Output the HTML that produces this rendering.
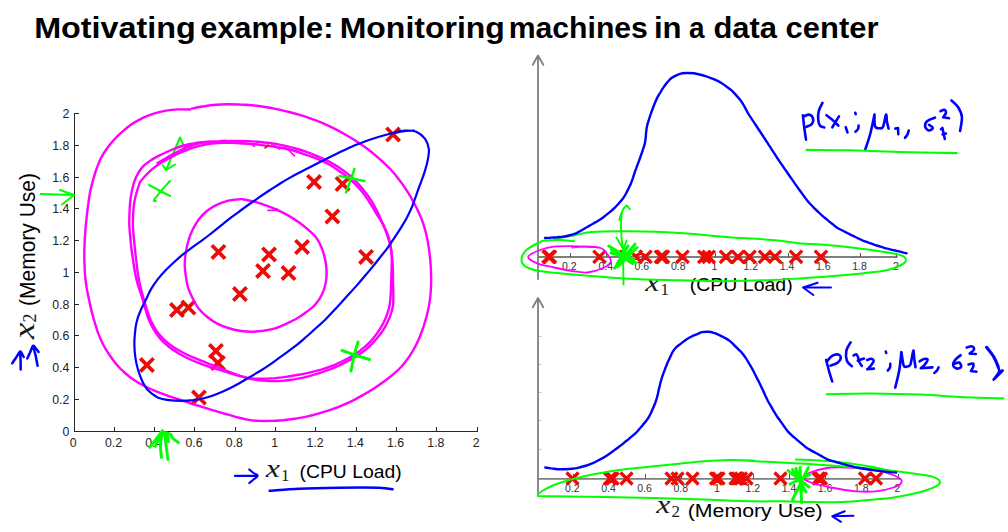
<!DOCTYPE html>
<html><head><meta charset="utf-8"><title>Motivating example</title>
<style>
html,body{margin:0;padding:0;background:#fff;}
body{width:1008px;height:532px;overflow:hidden;font-family:"Liberation Sans",sans-serif;}
svg{display:block;font-family:"Liberation Sans",sans-serif;}
svg path{fill:none;stroke-linecap:round;stroke-linejoin:round;}
svg path.x{stroke-linecap:butt;}
</style></head><body>
<svg width="1008" height="532" viewBox="0 0 1008 532">
<rect width="1008" height="532" fill="#fff"/>
<text x="34.20" y="37.7" font-size="29.7" font-weight="bold" fill="#000" textLength="161.56" lengthAdjust="spacingAndGlyphs">Motivating</text>
<text x="200.20" y="37.7" font-size="29.7" font-weight="bold" fill="#000" textLength="133.21" lengthAdjust="spacingAndGlyphs">example:</text>
<text x="339.70" y="37.7" font-size="29.7" font-weight="bold" fill="#000" textLength="165.16" lengthAdjust="spacingAndGlyphs">Monitoring</text>
<text x="508.70" y="37.7" font-size="29.7" font-weight="bold" fill="#000" textLength="139.22" lengthAdjust="spacingAndGlyphs">machines</text>
<text x="653.90" y="37.7" font-size="29.7" font-weight="bold" fill="#000" textLength="27.58" lengthAdjust="spacingAndGlyphs">in</text>
<text x="689.00" y="37.7" font-size="29.7" font-weight="bold" fill="#000" textLength="15.52" lengthAdjust="spacingAndGlyphs">a</text>
<text x="713.40" y="37.7" font-size="29.7" font-weight="bold" fill="#000" textLength="63.62" lengthAdjust="spacingAndGlyphs">data</text>
<text x="785.60" y="37.7" font-size="29.7" font-weight="bold" fill="#000" textLength="92.84" lengthAdjust="spacingAndGlyphs">center</text>
<text x="265.8" y="477.0" font-family="Liberation Serif, serif" font-style="italic" font-size="25.0" fill="#1a1a1a" textLength="14.2" lengthAdjust="spacingAndGlyphs">x</text>
<text x="281.1" y="481.0" font-family="Liberation Serif, serif" font-size="17.0" fill="#1a1a1a">1</text>
<text x="299.6" y="477.8" font-size="18.7" fill="#000" textLength="102" lengthAdjust="spacingAndGlyphs">(CPU Load)</text>
<text x="645.2" y="291.0" font-family="Liberation Serif, serif" font-style="italic" font-size="25.0" fill="#1a1a1a" textLength="14.2" lengthAdjust="spacingAndGlyphs">x</text>
<text x="660.5" y="295.0" font-family="Liberation Serif, serif" font-size="17.0" fill="#1a1a1a">1</text>
<text x="689.7" y="290.6" font-size="18.7" fill="#000" textLength="103" lengthAdjust="spacingAndGlyphs">(CPU Load)</text>
<text x="656.2" y="513.0" font-family="Liberation Serif, serif" font-style="italic" font-size="25.0" fill="#1a1a1a" textLength="14.2" lengthAdjust="spacingAndGlyphs">x</text>
<text x="671.5" y="517.0" font-family="Liberation Serif, serif" font-size="17.0" fill="#1a1a1a">2</text>
<text x="687.7" y="516.6" font-size="18.9" fill="#000" textLength="135" lengthAdjust="spacingAndGlyphs">(Memory Use)</text>
<g transform="translate(34.6,339) rotate(-90)"><text x="0" y="-0.5" font-family="Liberation Serif, serif" font-style="italic" font-size="29" fill="#1a1a1a" textLength="16.5" lengthAdjust="spacingAndGlyphs">x</text><text x="16.5" y="1.2" font-family="Liberation Serif, serif" font-size="18" fill="#1a1a1a">2</text><text x="33" y="0" font-size="22.4" fill="#000" textLength="133" lengthAdjust="spacingAndGlyphs">(Memory Use)</text></g>
<path d="M74.5 113.8V431.5H477.5M74.5 431.5h4M114.5 431.5v-4M74.5 399.5h4M154.5 431.5v-4M74.5 367.5h4M194.5 431.5v-4M74.5 335.5h4M235.5 431.5v-4M74.5 304.5h4M275.5 431.5v-4M74.5 272.5h4M315.5 431.5v-4M74.5 240.5h4M356.5 431.5v-4M74.5 208.5h4M396.5 431.5v-4M74.5 177.5h4M436.5 431.5v-4M74.5 145.5h4M477.5 431.5v-4M74.5 113.5h4" stroke="#262626" stroke-width="1" shape-rendering="crispEdges"/>
<g font-size="12.3" fill="#222" stroke="none">
<text x="73.2" y="447.0" text-anchor="middle">0</text>
<text x="69.3" y="435.7" text-anchor="end">0</text>
<text x="113.5" y="447.0" text-anchor="middle">0.2</text>
<text x="69.3" y="403.7" text-anchor="end">0.2</text>
<text x="153.8" y="447.0" text-anchor="middle">0.4</text>
<text x="69.3" y="371.7" text-anchor="end">0.4</text>
<text x="194.1" y="447.0" text-anchor="middle">0.6</text>
<text x="69.3" y="339.7" text-anchor="end">0.6</text>
<text x="234.4" y="447.0" text-anchor="middle">0.8</text>
<text x="69.3" y="308.7" text-anchor="end">0.8</text>
<text x="274.7" y="447.0" text-anchor="middle">1</text>
<text x="69.3" y="276.7" text-anchor="end">1</text>
<text x="315.0" y="447.0" text-anchor="middle">1.2</text>
<text x="69.3" y="244.7" text-anchor="end">1.2</text>
<text x="355.3" y="447.0" text-anchor="middle">1.4</text>
<text x="69.3" y="212.7" text-anchor="end">1.4</text>
<text x="395.6" y="447.0" text-anchor="middle">1.6</text>
<text x="69.3" y="181.7" text-anchor="end">1.6</text>
<text x="435.9" y="447.0" text-anchor="middle">1.8</text>
<text x="69.3" y="149.7" text-anchor="end">1.8</text>
<text x="476.2" y="447.0" text-anchor="middle">2</text>
<text x="69.3" y="117.7" text-anchor="end">2</text>
</g>
<path class="x" d="M211.8 245.3l13.3 13.3M211.8 258.6l13.3 -13.3M262.4 247.8l13.3 13.3M262.4 261.1l13.3 -13.3M295.4 240.3l13.3 13.3M295.4 253.7l13.3 -13.3M325.7 209.8l13.3 13.3M325.7 223.2l13.3 -13.3M359.4 250.3l13.3 13.3M359.4 263.6l13.3 -13.3M256.4 264.4l13.3 13.3M256.4 277.6l13.3 -13.3M281.9 266.4l13.3 13.3M281.9 279.6l13.3 -13.3M233.3 287.4l13.3 13.3M233.3 300.6l13.3 -13.3M170.3 303.4l13.3 13.3M170.3 316.6l13.3 -13.3M181.8 300.9l13.3 13.3M181.8 314.1l13.3 -13.3M140.3 358.4l13.3 13.3M140.3 371.6l13.3 -13.3M209.3 344.4l13.3 13.3M209.3 357.6l13.3 -13.3M211.3 356.4l13.3 13.3M211.3 369.6l13.3 -13.3M192.3 390.9l13.3 13.3M192.3 404.1l13.3 -13.3M386.4 127.8l13.3 13.3M386.4 141.2l13.3 -13.3M307.4 175.3l13.3 13.3M307.4 188.7l13.3 -13.3M335.9 177.3l13.3 13.3M335.9 190.7l13.3 -13.3" stroke="#ee0a05" stroke-width="3.7"/>
<path d="M149.0 185.0L170.0 196.0M170.0 181.0C168.7 182.5 164.7 186.8 162.0 190.0C159.3 193.2 155.0 198.2 154.0 200.0C153.0 201.8 155.7 200.8 156.0 201.0" stroke="#00ff00" stroke-width="2" />
<path d="M175.0 149.0L180.0 137.5L186.0 151.0L196.0 142.5M180.0 138.0L166.0 170.0M162.5 165.0L166.0 170.0L175.0 164.5" stroke="#00ff00" stroke-width="2" />
<path d="M239.1 199.2C236.5 199.4 232.1 199.8 228.4 200.7C224.7 201.7 220.7 202.9 217.2 204.6C213.6 206.2 210.1 208.3 207.1 210.7C204.0 213.2 201.3 216.2 198.9 219.3C196.5 222.5 194.5 226.0 192.7 229.5C191.0 233.1 189.5 236.8 188.4 240.6C187.2 244.4 186.5 248.4 185.9 252.3C185.2 256.2 184.7 260.2 184.7 264.2C184.7 268.1 185.2 272.1 185.8 276.0C186.4 279.9 187.0 283.9 188.1 287.7C189.3 291.5 191.0 295.1 192.8 298.6C194.5 302.1 196.4 305.8 198.8 308.8C201.2 311.9 204.2 314.5 207.3 317.0C210.3 319.4 213.7 321.8 217.2 323.6C220.7 325.4 224.4 326.8 228.1 328.0C231.9 329.2 235.9 330.2 239.8 330.8C243.7 331.4 247.6 331.8 251.6 331.8C255.5 331.8 259.5 331.3 263.5 330.8C267.4 330.2 271.3 329.5 275.1 328.3C278.8 327.1 282.5 325.4 286.1 323.8C289.8 322.1 293.4 320.5 296.9 318.5C300.3 316.5 303.6 314.2 306.7 311.8C309.9 309.3 313.2 306.9 315.7 303.9C318.3 301.0 320.4 297.7 322.1 294.2C323.7 290.7 325.0 286.7 325.7 282.9C326.5 279.1 326.7 275.1 326.6 271.2C326.5 267.3 326.0 263.2 325.1 259.4C324.3 255.5 323.1 251.6 321.7 248.0C320.2 244.3 318.5 240.7 316.2 237.6C313.9 234.5 310.8 231.9 307.8 229.3C304.8 226.7 301.7 224.2 298.4 221.9C295.1 219.6 291.7 217.5 288.3 215.6C284.8 213.6 281.2 211.8 277.6 210.2C273.9 208.5 270.2 207.0 266.5 205.7C262.7 204.3 258.8 203.0 255.1 201.9C251.3 200.9 246.7 199.9 244.0 199.5C241.3 199.0 241.7 198.9 239.1 199.2Z" stroke="#ff00ff" stroke-width="2.4" />
<path d="M268.0 210.3L278.5 210.3L276.0 208.7" stroke="#ff00ff" stroke-width="1.8" />
<path d="M190.0 109.5C188.0 109.5 182.0 109.2 178.0 109.4C174.1 109.6 170.1 109.9 166.2 110.6C162.3 111.3 158.4 112.2 154.6 113.4C150.8 114.5 147.0 115.9 143.4 117.6C139.9 119.3 136.4 121.2 133.0 123.3C129.7 125.5 126.6 128.0 123.6 130.6C120.5 133.1 117.6 135.8 114.9 138.7C112.2 141.6 109.6 144.7 107.3 148.0C105.0 151.2 102.8 154.5 101.0 158.0C99.2 161.5 97.9 165.2 96.5 169.0C95.2 172.7 94.1 176.6 93.0 180.4C91.9 184.3 90.9 188.1 90.1 192.1C89.4 196.0 88.8 199.9 88.3 203.9C87.7 207.8 87.3 211.8 86.8 215.8C86.4 219.8 86.0 223.7 85.6 227.7C85.3 231.7 85.0 235.7 84.8 239.7C84.6 243.7 84.4 247.7 84.3 251.7C84.3 255.7 84.3 259.7 84.5 263.7C84.6 267.6 84.7 271.6 85.1 275.6C85.5 279.6 86.0 283.5 86.6 287.5C87.3 291.4 88.1 295.3 88.9 299.3C89.7 303.2 90.6 307.1 91.5 310.9C92.5 314.8 93.6 318.7 94.8 322.5C95.9 326.3 97.0 330.2 98.4 333.9C99.9 337.6 101.5 341.2 103.3 344.7C105.1 348.3 107.3 351.7 109.5 355.0C111.7 358.3 114.0 361.5 116.6 364.5C119.1 367.6 122.0 370.4 125.0 373.0C127.9 375.6 131.1 378.1 134.4 380.3C137.7 382.5 141.2 384.5 144.7 386.3C148.3 388.1 151.9 389.6 155.6 391.1C159.3 392.6 163.1 394.0 166.9 395.3C170.6 396.7 174.4 397.9 178.2 399.2C182.0 400.5 185.8 401.8 189.6 403.0C193.4 404.3 197.2 405.4 201.1 406.6C204.9 407.8 208.7 408.9 212.5 410.1C216.4 411.2 220.2 412.4 224.0 413.5C227.9 414.6 231.7 415.8 235.6 416.8C239.4 417.8 243.3 419.0 247.2 419.6C251.1 420.3 255.0 420.7 259.0 420.9C263.0 421.1 267.0 421.0 271.0 420.9C275.0 420.8 279.0 420.5 282.9 420.2C286.9 419.8 290.9 419.3 294.8 418.7C298.8 418.2 302.7 417.4 306.6 416.6C310.5 415.8 314.4 414.8 318.2 413.7C322.1 412.6 325.9 411.5 329.7 410.2C333.5 408.9 337.2 407.4 340.9 405.9C344.6 404.4 348.3 402.8 351.8 401.1C355.4 399.3 358.9 397.4 362.4 395.4C365.9 393.5 369.3 391.4 372.7 389.3C376.1 387.1 379.3 384.9 382.6 382.5C385.8 380.2 389.0 377.7 392.1 375.2C395.1 372.6 398.2 370.1 400.9 367.2C403.6 364.3 406.0 361.1 408.3 357.9C410.6 354.7 412.7 351.3 414.6 347.8C416.5 344.3 418.2 340.7 419.7 337.0C421.2 333.4 422.6 329.6 423.8 325.8C425.0 322.0 426.2 318.1 427.1 314.3C428.1 310.4 428.9 306.5 429.5 302.6C430.2 298.6 430.5 294.6 430.8 290.7C431.0 286.7 431.2 282.7 431.2 278.7C431.1 274.7 431.0 270.7 430.8 266.7C430.5 262.7 430.2 258.7 429.7 254.8C429.3 250.8 428.7 246.9 428.0 242.9C427.3 239.0 426.5 235.1 425.5 231.2C424.5 227.4 423.3 223.6 421.9 219.8C420.5 216.1 418.8 212.5 417.1 208.9C415.4 205.3 413.5 201.8 411.5 198.3C409.5 194.8 407.4 191.4 405.2 188.1C403.0 184.8 400.7 181.5 398.2 178.4C395.7 175.3 393.2 172.2 390.5 169.3C387.8 166.4 384.8 163.7 381.9 161.0C378.9 158.3 375.9 155.6 372.8 153.1C369.7 150.6 366.5 148.3 363.2 145.9C360.0 143.6 356.7 141.4 353.3 139.2C349.9 137.1 346.4 135.1 343.0 133.2C339.5 131.2 336.0 129.3 332.4 127.6C328.8 125.8 325.2 124.2 321.5 122.6C317.8 121.1 314.0 119.7 310.2 118.4C306.5 117.1 302.7 115.8 298.9 114.7C295.0 113.5 291.2 112.5 287.3 111.5C283.4 110.6 279.5 109.6 275.6 108.9C271.7 108.1 267.7 107.4 263.8 106.8C259.8 106.2 255.9 105.7 251.9 105.3C247.9 104.9 243.9 104.6 239.9 104.5C235.9 104.3 231.9 104.2 228.0 104.2C224.0 104.3 219.9 104.4 216.0 104.7C212.0 105.0 207.9 105.6 204.3 106.2C200.7 106.7 196.2 107.7 194.2 108.1C192.1 108.5 192.4 108.4 192.0 108.5" stroke="#ff00ff" stroke-width="2.4" />
<path d="M157.5 163.0C159.2 162.0 164.4 159.0 167.9 157.0C171.4 155.0 174.8 153.0 178.4 151.2C181.9 149.4 185.5 147.5 189.2 146.1C192.9 144.8 196.7 143.7 200.6 143.0C204.5 142.2 208.5 142.1 212.5 141.8C216.5 141.4 220.5 141.2 224.5 141.0C228.5 140.9 232.5 140.9 236.5 140.9C240.5 140.9 244.5 140.9 248.5 141.1C252.4 141.3 256.4 141.6 260.4 142.0C264.4 142.4 268.4 142.8 272.3 143.4C276.3 144.0 280.2 144.8 284.1 145.6C288.0 146.5 291.9 147.4 295.7 148.5C299.6 149.6 303.4 150.8 307.1 152.2C310.9 153.5 314.6 155.0 318.3 156.6C321.9 158.1 325.6 159.8 329.1 161.6C332.6 163.5 336.1 165.6 339.4 167.8C342.7 170.0 345.9 172.3 349.0 174.9C352.0 177.4 354.8 180.3 357.6 183.2C360.3 186.1 362.9 189.2 365.3 192.3C367.7 195.5 370.1 198.7 372.2 202.1C374.2 205.5 376.1 209.1 377.8 212.6C379.5 216.2 381.1 219.9 382.6 223.6C384.2 227.3 385.9 231.0 387.1 234.7C388.4 238.5 389.5 242.3 390.4 246.2C391.2 250.1 391.8 254.1 392.2 258.0C392.6 262.0 392.8 266.0 392.9 270.0C393.1 274.0 393.0 278.0 393.0 282.0C393.1 286.0 393.3 290.0 393.3 294.0C393.3 297.9 393.5 301.9 393.0 305.8C392.4 309.7 391.2 313.5 389.8 317.2C388.4 320.8 386.5 324.4 384.5 327.8C382.5 331.2 380.1 334.5 377.6 337.6C375.1 340.7 372.4 343.6 369.5 346.3C366.6 349.0 363.5 351.5 360.2 353.8C357.0 356.1 353.5 358.0 350.0 359.9C346.5 361.8 342.9 363.6 339.3 365.3C335.6 367.0 332.0 368.6 328.3 370.0C324.5 371.4 320.7 372.7 316.9 373.9C313.1 375.1 309.3 376.3 305.4 377.2C301.6 378.2 297.6 378.8 293.7 379.4C289.7 380.0 285.8 380.7 281.8 380.9C277.8 381.2 273.8 381.1 269.9 381.0C265.9 380.8 261.9 380.6 257.9 380.1C254.0 379.6 250.1 378.8 246.2 377.8C242.3 376.9 238.5 375.6 234.7 374.5C230.8 373.4 227.0 372.2 223.2 371.1C219.3 369.9 215.5 368.8 211.7 367.6C207.9 366.4 204.1 365.1 200.4 363.7C196.6 362.2 192.9 360.7 189.3 359.0C185.7 357.3 182.1 355.5 178.7 353.5C175.3 351.4 172.0 349.2 168.9 346.7C165.8 344.2 162.8 341.6 160.2 338.6C157.6 335.6 155.4 332.3 153.3 328.9C151.3 325.5 149.6 321.9 148.2 318.2C146.7 314.5 145.9 310.6 144.8 306.8C143.7 302.9 142.6 299.1 141.4 295.3C140.2 291.5 138.7 287.7 137.6 283.9C136.5 280.1 135.7 276.2 134.9 272.3C134.2 268.4 133.6 264.4 133.1 260.4C132.5 256.5 131.9 252.5 131.4 248.5C131.0 244.6 130.5 240.6 130.2 236.6C129.8 232.6 129.5 228.6 129.3 224.7C129.2 220.7 129.3 216.7 129.5 212.7C129.7 208.7 129.9 204.7 130.3 200.7C130.8 196.8 131.4 192.8 132.3 188.9C133.2 185.1 134.2 181.2 135.9 177.6C137.5 174.1 139.4 170.5 142.0 167.6C144.5 164.7 147.7 162.5 151.0 160.3C154.2 158.1 157.9 156.3 161.5 154.5C165.0 152.7 168.7 151.0 172.4 149.5C176.0 148.0 179.8 146.6 183.6 145.5C187.4 144.5 191.4 143.7 195.3 143.1C199.2 142.4 203.2 142.1 207.2 141.7C211.2 141.4 216.1 141.2 219.1 141.1C222.1 140.9 224.0 140.8 225.0 140.8" stroke="#ff00ff" stroke-width="2.4" />
<path d="M140.0 182.0C141.3 180.5 145.1 175.8 147.9 173.0C150.7 170.3 153.8 167.8 157.0 165.4C160.3 163.1 163.7 161.1 167.2 159.1C170.7 157.2 174.2 155.3 177.9 153.6C181.5 152.0 185.1 150.4 188.9 149.0C192.6 147.7 196.5 146.5 200.4 145.6C204.2 144.7 208.2 144.0 212.1 143.6C216.1 143.1 220.1 142.9 224.1 142.8C228.0 142.7 232.0 142.9 236.0 143.0C240.0 143.2 244.0 143.4 248.0 143.7C252.0 144.0 256.0 144.4 259.9 144.9C263.9 145.3 267.9 145.9 271.8 146.4C275.8 147.0 279.8 147.4 283.7 148.2C287.6 148.9 291.5 149.9 295.3 151.0C299.1 152.2 302.8 153.7 306.6 155.0C310.3 156.4 314.2 157.7 317.8 159.2C321.5 160.7 325.2 162.3 328.7 164.2C332.1 166.1 335.4 168.4 338.7 170.7C342.0 173.0 345.3 175.2 348.3 177.8C351.4 180.3 354.3 183.1 357.0 186.0C359.7 188.9 362.3 191.9 364.7 195.1C367.0 198.3 369.2 201.7 371.3 205.1C373.4 208.5 375.4 212.0 377.4 215.4C379.5 218.8 381.9 222.0 383.7 225.5C385.6 229.0 387.2 232.7 388.4 236.4C389.6 240.1 390.5 244.1 391.0 248.0C391.6 251.9 391.7 255.9 391.8 259.9C391.8 263.9 391.6 267.9 391.5 271.9C391.4 275.9 391.2 279.9 391.1 283.9C390.9 287.9 390.9 291.9 390.6 295.9C390.3 299.8 390.0 303.8 389.2 307.6C388.3 311.5 386.9 315.2 385.3 318.9C383.7 322.5 381.8 326.0 379.7 329.4C377.6 332.7 375.2 336.0 372.7 339.0C370.1 342.0 367.2 344.8 364.2 347.4C361.2 350.0 358.0 352.4 354.6 354.5C351.3 356.7 347.7 358.5 344.2 360.3C340.6 362.1 337.0 363.9 333.4 365.4C329.7 367.0 325.9 368.2 322.1 369.4C318.3 370.5 314.4 371.4 310.5 372.3C306.6 373.2 302.7 374.1 298.7 374.8C294.8 375.5 290.8 376.1 286.9 376.7C282.9 377.2 279.0 377.7 275.0 378.1C271.0 378.4 267.0 378.7 263.0 378.7C259.0 378.8 255.0 379.0 251.1 378.5C247.2 378.0 243.4 376.8 239.6 375.7C235.9 374.5 232.1 372.9 228.4 371.5C224.7 370.1 221.0 368.5 217.3 367.0C213.6 365.5 209.8 364.1 206.1 362.6C202.4 361.1 198.7 359.7 195.0 358.1C191.3 356.6 187.6 355.0 184.1 353.2C180.5 351.3 177.0 349.4 173.7 347.2C170.4 345.0 167.2 342.6 164.3 339.9C161.5 337.2 158.9 334.1 156.6 330.9C154.4 327.7 152.5 324.2 150.8 320.6C149.2 317.0 148.1 313.1 146.8 309.3C145.6 305.5 144.4 301.7 143.4 297.8C142.3 294.0 141.2 290.1 140.3 286.2C139.4 282.3 138.6 278.4 138.0 274.5C137.3 270.5 136.9 266.6 136.5 262.6C136.0 258.6 135.5 254.6 135.1 250.7C134.7 246.7 134.2 242.7 133.9 238.7C133.5 234.7 133.1 230.8 133.0 226.8C132.8 222.8 132.9 218.8 133.1 214.8C133.3 210.8 133.6 206.8 134.2 202.9C134.8 199.0 135.9 194.9 136.9 191.5C137.9 188.0 139.5 183.6 140.0 182.0" stroke="#ff00ff" stroke-width="2.4" />
<path d="M238.0 142.8C240.0 143.0 247.2 143.2 250.0 143.8C252.8 144.4 253.8 146.1 254.5 146.5M271.6 144.5C272.3 144.8 274.7 145.8 276.0 146.5C277.3 147.2 278.9 148.6 279.5 149.0M284.3 147.4C285.1 147.9 287.3 149.1 289.0 150.5C290.7 151.9 293.7 155.1 294.6 156.0" stroke="#ff00ff" stroke-width="1.6" />
<path d="M265.3 147.8L268.3 145.4" stroke="#ee0a05" stroke-width="2" />
<path d="M393.0 133.0C395.0 132.6 400.9 130.8 404.7 130.6C408.6 130.4 412.8 130.4 416.2 131.7C419.6 133.1 422.9 135.9 425.1 138.8C427.2 141.8 428.5 145.7 428.9 149.4C429.3 153.2 428.2 157.4 427.5 161.2C426.7 165.1 425.5 169.0 424.3 172.8C423.1 176.6 421.6 180.3 420.2 184.1C418.9 187.8 417.5 191.6 416.2 195.4C414.8 199.1 413.6 203.0 412.1 206.7C410.6 210.3 408.8 214.0 407.0 217.5C405.1 221.0 403.0 224.4 400.9 227.8C398.8 231.2 396.6 234.5 394.3 237.9C392.1 241.2 390.0 244.6 387.6 247.8C385.3 251.0 382.7 254.1 380.2 257.2C377.7 260.4 375.2 263.5 372.7 266.6C370.2 269.7 367.6 272.8 365.0 275.8C362.5 278.9 359.9 281.9 357.3 284.9C354.6 287.9 351.9 290.9 349.2 293.8C346.5 296.8 343.8 299.8 341.1 302.7C338.4 305.7 335.7 308.6 333.0 311.6C330.3 314.5 327.5 317.4 324.7 320.2C321.8 322.9 318.8 325.6 315.8 328.3C312.8 330.9 309.9 333.6 306.9 336.3C303.9 338.9 300.9 341.6 297.8 344.1C294.7 346.6 291.4 348.9 288.2 351.3C285.0 353.7 281.7 356.0 278.5 358.4C275.3 360.7 272.1 363.2 268.8 365.4C265.5 367.7 262.1 369.7 258.7 371.8C255.2 373.9 251.8 375.9 248.3 377.9C244.9 379.9 241.5 382.0 238.0 384.0C234.5 385.9 230.9 387.8 227.3 389.5C223.7 391.2 220.1 392.8 216.3 394.2C212.6 395.7 208.8 397.0 204.9 398.0C201.1 399.0 197.1 399.7 193.2 400.2C189.2 400.6 185.2 400.8 181.2 400.8C177.3 400.8 173.2 400.7 169.3 400.1C165.4 399.6 161.2 399.0 157.7 397.4C154.2 395.8 150.9 393.4 148.3 390.6C145.6 387.8 143.8 384.1 142.0 380.5C140.3 377.0 139.0 373.2 137.9 369.3C136.8 365.5 135.9 361.6 135.4 357.7C134.8 353.7 134.5 349.7 134.4 345.7C134.3 341.7 134.5 337.7 134.9 333.8C135.2 329.8 135.6 325.8 136.6 321.9C137.5 318.1 138.9 314.3 140.5 310.7C142.0 307.0 144.1 303.6 145.8 300.0C147.6 296.4 149.0 292.6 151.0 289.1C152.9 285.7 155.3 282.4 157.7 279.3C160.1 276.1 162.9 273.2 165.6 270.3C168.4 267.4 171.3 264.7 174.3 262.0C177.2 259.3 180.2 256.6 183.3 254.1C186.4 251.6 189.7 249.3 192.9 246.9C196.1 244.5 199.5 242.3 202.7 239.9C205.9 237.6 209.0 235.1 212.2 232.6C215.3 230.1 218.4 227.6 221.5 225.1C224.6 222.6 227.7 220.0 230.9 217.6C234.1 215.2 237.3 212.9 240.6 210.5C243.8 208.1 247.0 205.8 250.3 203.5C253.6 201.2 256.8 198.9 260.1 196.6C263.4 194.4 266.8 192.1 270.1 190.0C273.5 187.8 276.8 185.6 280.2 183.5C283.6 181.4 287.1 179.3 290.6 177.4C294.0 175.4 297.6 173.6 301.1 171.7C304.7 169.8 308.2 168.0 311.8 166.2C315.4 164.4 318.9 162.6 322.5 160.8C326.0 158.9 329.6 157.1 333.2 155.4C336.8 153.6 340.4 151.9 344.0 150.2C347.7 148.5 351.3 146.8 355.0 145.3C358.7 143.8 362.4 142.4 366.2 141.0C369.9 139.7 373.7 138.3 377.5 137.2C381.4 136.0 385.2 135.0 389.1 134.0C393.0 133.1 397.0 132.2 400.8 131.6C404.6 131.1 409.7 130.8 411.9 130.7C414.1 130.5 413.7 130.5 414.0 130.5" stroke="#0000ff" stroke-width="2.2" />
<path d="M40.6 194.0L74.0 195.0M60.0 190.0L74.0 195.0L62.0 204.5" stroke="#00ff00" stroke-width="2" />
<path d="M354.5 169.0L346.0 192.5M339.5 176.0L364.5 181.0" stroke="#00ff00" stroke-width="2.4" />
<path d="M358.0 342.0C357.3 344.3 355.2 351.2 354.0 356.0C352.8 360.8 351.5 368.5 351.0 371.0M342.0 350.5C344.2 351.2 350.4 353.5 355.0 355.0C359.6 356.5 367.1 358.8 369.5 359.5" stroke="#00ff00" stroke-width="3" />
<path d="M161.5 457.6C161.3 455.5 160.3 449.5 160.5 445.0C160.7 440.5 162.1 433.2 162.4 430.8M168.0 459.5C167.7 457.1 166.5 449.5 166.0 445.0C165.5 440.5 165.0 434.8 164.8 432.7M149.7 447.3L162.4 430.8M155.4 446.3L161.0 432.2M165.7 432.7C166.5 432.9 169.2 433.2 170.4 434.1C171.6 435.0 171.5 436.9 172.8 438.3C174.1 439.7 177.5 441.9 178.4 442.6M167.6 435.0L168.5 441.6" stroke="#00ff00" stroke-width="2.9" />
<path d="M20.7 369.5C20.7 367.9 20.7 362.9 20.6 360.0C20.5 357.1 20.0 353.3 19.9 352.0M12.2 363.3C12.9 362.2 15.2 358.9 16.5 357.0C17.8 355.1 19.1 352.4 19.9 351.7C20.7 351.0 20.9 352.1 21.5 353.0C22.1 353.9 23.3 356.3 23.7 357.0M37.6 365.8C37.2 364.0 36.3 358.3 35.5 355.0C34.7 351.7 33.4 347.5 33.0 346.0M27.3 358.5C27.8 357.3 29.6 353.6 30.5 351.5C31.4 349.4 32.2 346.4 33.0 345.8C33.8 345.2 34.6 347.0 35.5 348.0C36.4 349.0 38.1 351.3 38.6 352.0" stroke="#0000ff" stroke-width="2.5" />
<path d="M234.9 475.8L257.7 475.8M249.3 469.5C250.0 470.1 252.1 471.9 253.5 473.0C254.9 474.1 257.7 474.7 257.7 475.8C257.7 476.9 254.9 478.3 253.5 479.5C252.1 480.7 250.0 482.4 249.3 483.0" stroke="#0000ff" stroke-width="2.2" />
<path d="M269.6 490.7C274.6 490.4 287.8 489.2 299.4 488.7C311.0 488.2 325.8 487.9 339.0 487.7C352.2 487.5 369.8 487.4 378.7 487.7C387.6 488.0 390.3 489.0 392.6 489.3" stroke="#0000ff" stroke-width="2.5" />
<g stroke="#7f7f7f" stroke-width="1.8">
<path d="M538 56V279M532.8 64.8L538 55.5L543.3 64.8"/>
<path d="M538 257H897"/>
<path d="M538 298.5V496M532.8 307.3L538 298L543.3 307.3"/>
<path d="M538 478.8H899.5"/>
</g>
<path d="M570.5 257v-4M573.5 478.5v-4M606.5 257v-4M609.5 478.5v-4M642.5 257v-4M645.5 478.5v-4M679.5 257v-4M681.5 478.5v-4M715.5 257v-4M717.5 478.5v-4M751.5 257v-4M753.5 478.5v-4M788.5 257v-4M789.5 478.5v-4M824.5 257v-4M825.5 478.5v-4M860.5 257v-4M862.5 478.5v-4M896.5 257v-4M898.5 478.5v-4" stroke="#555" stroke-width="1" shape-rendering="crispEdges"/>
<path d="M539 336.0h3M539 364.0h3M539 392.5h3M539 420.5h3M539 449.0h3" stroke="#d0d0d0" stroke-width="1" shape-rendering="crispEdges"/>
<g font-size="10.5" fill="#333" stroke="none" text-anchor="middle">
<text x="569.4" y="270.3">0.2</text>
<text x="572.4" y="492">0.2</text>
<text x="605.7" y="270.3">0.4</text>
<text x="608.5" y="492">0.4</text>
<text x="641.9" y="270.3">0.6</text>
<text x="644.6" y="492">0.6</text>
<text x="678.2" y="270.3">0.8</text>
<text x="680.7" y="492">0.8</text>
<text x="714.5" y="270.3">1</text>
<text x="716.8" y="492">1</text>
<text x="750.8" y="270.3">1.2</text>
<text x="752.9" y="492">1.2</text>
<text x="787.1" y="270.3">1.4</text>
<text x="789.0" y="492">1.4</text>
<text x="823.3" y="270.3">1.6</text>
<text x="825.1" y="492">1.6</text>
<text x="859.6" y="270.3">1.8</text>
<text x="861.2" y="492">1.8</text>
<text x="895.9" y="270.3">2</text>
<text x="897.3" y="492">2</text>
</g>
<path class="x" d="M542.4 250.6l12.4 12.4M542.4 263.0l12.4 -12.4M543.8 250.6l12.4 12.4M543.8 263.0l12.4 -12.4M593.3 250.6l12.4 12.4M593.3 263.0l12.4 -12.4M619.5 250.6l12.4 12.4M619.5 263.0l12.4 -12.4M629.8 250.6l12.4 12.4M629.8 263.0l12.4 -12.4M639.2 250.6l12.4 12.4M639.2 263.0l12.4 -12.4M654.8 250.6l12.4 12.4M654.8 263.0l12.4 -12.4M656.8 250.6l12.4 12.4M656.8 263.0l12.4 -12.4M676.3 250.6l12.4 12.4M676.3 263.0l12.4 -12.4M698.1 250.6l12.4 12.4M698.1 263.0l12.4 -12.4M702.5 250.6l12.4 12.4M702.5 263.0l12.4 -12.4M719.8 250.6l12.4 12.4M719.8 263.0l12.4 -12.4M731.8 250.6l12.4 12.4M731.8 263.0l12.4 -12.4M743.3 250.6l12.4 12.4M743.3 263.0l12.4 -12.4M758.8 250.6l12.4 12.4M758.8 263.0l12.4 -12.4M768.8 250.6l12.4 12.4M768.8 263.0l12.4 -12.4M789.8 250.6l12.4 12.4M789.8 263.0l12.4 -12.4M814.8 250.6l12.4 12.4M814.8 263.0l12.4 -12.4" stroke="#ee0a05" stroke-width="3.3"/>
<path class="x" d="M566.5 472.5l12 12M566.5 484.5l12 -12M604.0 472.5l12 12M604.0 484.5l12 -12M606.5 472.5l12 12M606.5 484.5l12 -12M620.5 472.5l12 12M620.5 484.5l12 -12M665.5 472.5l12 12M665.5 484.5l12 -12M671.5 472.5l12 12M671.5 484.5l12 -12M686.5 472.5l12 12M686.5 484.5l12 -12M710.0 472.5l12 12M710.0 484.5l12 -12M712.5 472.5l12 12M712.5 484.5l12 -12M729.5 472.5l12 12M729.5 484.5l12 -12M732.0 472.5l12 12M732.0 484.5l12 -12M735.0 472.5l12 12M735.0 484.5l12 -12M740.5 472.5l12 12M740.5 484.5l12 -12M774.5 472.5l12 12M774.5 484.5l12 -12M812.5 472.5l12 12M812.5 484.5l12 -12M815.0 472.5l12 12M815.0 484.5l12 -12M859.0 472.5l12 12M859.0 484.5l12 -12M870.0 472.5l12 12M870.0 484.5l12 -12" stroke="#ee0a05" stroke-width="3.3"/>
<path d="M590.0 247.0C588.2 246.9 585.0 246.4 579.0 246.3C573.0 246.2 560.5 246.1 554.0 246.7C547.5 247.3 544.3 248.3 540.0 250.0C535.7 251.7 528.7 254.5 528.2 256.7C527.8 258.9 533.0 261.5 537.3 263.3C541.6 265.1 548.4 266.2 554.0 267.5C559.6 268.8 565.2 270.0 570.7 270.8C576.2 271.6 581.9 273.0 587.3 272.5C592.7 272.0 599.1 269.8 603.0 268.0C606.9 266.2 610.0 264.0 610.7 261.7C611.4 259.4 609.0 256.3 607.3 254.0C605.6 251.7 604.4 249.2 600.7 248.0C597.0 246.8 589.8 246.6 585.0 246.5C580.2 246.4 574.2 247.3 572.0 247.5" stroke="#ff00ff" stroke-width="1.8" />
<path d="M803.8 478.5C803.1 477.2 805.4 475.7 807.0 474.5C808.6 473.3 809.5 472.5 813.5 471.3C817.5 470.1 823.9 468.1 831.0 467.5C838.1 466.9 847.7 467.4 856.0 468.0C864.3 468.6 873.9 469.7 881.0 471.3C888.1 472.9 895.1 475.6 898.5 477.5C901.9 479.4 902.3 480.8 901.5 482.5C900.7 484.2 897.8 486.0 893.5 487.5C889.2 489.0 882.2 490.7 876.0 491.3C869.8 491.9 863.5 491.9 856.0 491.3C848.5 490.7 838.5 489.0 831.0 487.5C823.5 486.0 815.5 484.0 811.0 482.5C806.5 481.0 804.5 479.8 803.8 478.5Z" stroke="#ff00ff" stroke-width="1.8" />
<path d="M574.0 241.3C571.7 241.1 564.8 240.1 560.0 240.0C555.2 239.9 548.5 240.1 545.0 240.5C541.5 240.9 542.1 240.9 539.0 242.5C535.9 244.1 529.4 247.3 526.5 250.0C523.6 252.7 521.7 256.1 521.5 258.8C521.3 261.5 522.0 264.2 525.3 266.3C528.6 268.4 532.5 269.9 541.5 271.3C550.5 272.8 564.4 273.8 579.0 275.0C593.6 276.2 612.3 277.9 629.0 278.8C645.7 279.7 663.0 279.9 679.0 280.3C695.0 280.7 709.5 281.2 725.0 281.2C740.5 281.1 759.5 280.5 772.0 280.0C784.5 279.5 790.2 279.0 800.0 278.4C809.8 277.8 820.7 277.1 831.0 276.3C841.3 275.5 852.7 274.4 862.0 273.4C871.3 272.4 880.2 271.7 886.8 270.3C893.3 268.9 898.1 266.7 901.3 265.0C904.5 263.3 905.9 261.6 905.9 260.0C905.9 258.4 905.2 256.8 901.3 255.4C897.4 254.0 891.0 253.0 882.7 251.7C874.4 250.4 862.0 248.7 851.7 247.5C841.4 246.3 829.3 245.1 820.7 244.4C812.1 243.7 808.1 244.1 800.0 243.4C791.9 242.7 785.0 241.1 772.0 240.0C759.0 238.9 737.5 237.9 722.0 236.7C706.5 235.5 694.5 233.9 679.0 233.0C663.5 232.1 643.6 231.5 629.0 231.3C614.4 231.1 600.7 231.3 591.5 232.0C582.3 232.7 580.2 234.4 574.0 235.5C567.8 236.6 557.3 238.2 554.0 238.8" stroke="#00ff00" stroke-width="2" />
<path d="M754.0 460.5C749.8 460.4 737.3 459.9 729.0 460.0C720.7 460.1 712.3 460.7 704.0 461.3C695.7 461.9 687.3 463.0 679.0 463.8C670.7 464.6 662.3 465.5 654.0 466.3C645.7 467.1 637.3 467.8 629.0 468.8C620.7 469.8 612.3 471.1 604.0 472.5C595.7 473.9 587.3 475.4 579.0 477.5C570.7 479.6 560.9 482.1 554.0 485.0C547.1 487.9 537.8 493.1 537.8 495.0C537.8 496.9 543.0 496.0 554.0 496.3C565.0 496.6 587.3 496.7 604.0 497.0C620.7 497.3 637.3 497.6 654.0 498.0C670.7 498.4 687.3 498.9 704.0 499.5C720.7 500.1 741.2 501.0 754.0 501.3C766.8 501.6 772.3 501.2 781.0 501.3C789.7 501.4 795.6 501.9 806.0 502.0C816.4 502.1 833.1 502.3 843.5 502.0C853.9 501.7 860.2 500.8 868.5 500.0C876.8 499.2 885.2 498.8 893.5 497.5C901.8 496.2 911.4 494.4 918.5 492.5C925.6 490.6 932.5 488.2 936.0 486.3C939.5 484.4 940.6 483.0 939.8 481.3C939.0 479.6 936.6 477.8 931.0 476.3C925.4 474.8 914.3 473.6 906.0 472.5C897.7 471.4 889.3 470.3 881.0 469.5C872.7 468.7 864.3 468.2 856.0 467.5C847.7 466.8 839.3 466.1 831.0 465.5C822.7 464.9 814.3 464.3 806.0 463.8C797.7 463.3 789.3 462.9 781.0 462.5C772.7 462.1 762.8 461.7 756.0 461.3C749.2 460.9 742.7 460.5 740.0 460.3" stroke="#00ff00" stroke-width="2" />
<path d="M796.0 459.5C801.8 459.8 818.9 460.2 831.0 461.3C843.1 462.4 857.7 464.5 868.5 466.3C879.3 468.1 891.4 471.1 896.0 472.0" stroke="#00ff00" stroke-width="2" />
<path d="M545.0 238.0C546.0 237.9 549.0 237.8 551.0 237.6C553.0 237.5 555.0 237.4 557.0 237.3C559.0 237.1 561.0 236.9 562.9 236.7C564.9 236.4 566.9 236.0 568.8 235.5C570.8 235.1 572.7 234.7 574.6 233.9C576.4 233.2 578.1 232.2 579.9 231.2C581.6 230.3 583.4 229.3 585.1 228.3C586.8 227.3 588.6 226.3 590.3 225.3C592.0 224.3 593.8 223.3 595.5 222.3C597.2 221.3 599.0 220.3 600.6 219.2C602.3 218.1 603.9 216.9 605.4 215.6C607.0 214.4 608.6 213.2 610.1 211.9C611.7 210.6 613.2 209.3 614.6 207.9C616.0 206.5 617.3 205.0 618.7 203.5C620.0 202.0 621.4 200.6 622.6 199.0C623.8 197.4 624.8 195.7 625.8 194.0C626.7 192.2 627.6 190.4 628.5 188.6C629.3 186.8 630.3 185.0 631.0 183.2C631.8 181.3 632.4 179.4 633.1 177.6C633.7 175.7 634.3 173.7 634.9 171.9C635.6 170.0 636.3 168.1 637.0 166.2C637.7 164.3 638.4 162.5 639.1 160.6C639.8 158.7 640.5 156.8 641.1 155.0C641.8 153.1 642.4 151.2 643.0 149.3C643.7 147.4 644.4 145.5 644.8 143.6C645.2 141.6 645.5 139.6 645.7 137.7C645.9 135.7 645.9 133.7 646.2 131.7C646.4 129.7 646.7 127.7 647.1 125.8C647.5 123.8 648.2 121.9 648.8 120.0C649.4 118.1 650.0 116.2 650.6 114.3C651.3 112.4 652.0 110.6 652.7 108.7C653.4 106.8 654.1 104.9 654.9 103.1C655.6 101.3 656.4 99.4 657.3 97.6C658.2 95.9 659.3 94.2 660.3 92.5C661.3 90.7 662.3 89.0 663.5 87.4C664.6 85.7 665.8 84.1 667.1 82.6C668.4 81.1 669.7 79.5 671.2 78.3C672.7 77.1 674.5 76.2 676.3 75.4C678.1 74.5 680.0 73.7 681.9 73.3C683.8 73.0 685.8 73.0 687.8 73.0C689.8 73.0 691.8 73.0 693.8 73.2C695.7 73.5 697.7 74.0 699.6 74.5C701.5 75.0 703.5 75.5 705.4 76.1C707.3 76.7 709.2 77.4 711.0 78.1C712.9 78.8 714.8 79.5 716.6 80.4C718.4 81.2 720.1 82.2 721.8 83.3C723.5 84.3 725.1 85.5 726.7 86.7C728.3 87.8 730.0 89.0 731.5 90.3C733.0 91.6 734.2 93.2 735.6 94.6C736.9 96.1 738.3 97.6 739.5 99.1C740.8 100.7 741.9 102.3 743.0 104.0C744.0 105.7 744.9 107.5 745.9 109.3C746.8 111.0 747.8 112.8 748.8 114.5C749.8 116.2 751.0 117.9 752.1 119.5C753.1 121.2 754.3 122.9 755.4 124.5C756.5 126.2 757.6 127.8 758.7 129.5C759.8 131.2 760.9 132.8 762.0 134.5C763.1 136.2 764.2 137.9 765.3 139.5C766.4 141.2 767.5 142.9 768.6 144.6C769.7 146.2 770.8 147.9 771.8 149.6C772.9 151.3 774.0 153.0 775.1 154.7C776.1 156.4 777.2 158.0 778.4 159.7C779.5 161.3 780.6 163.0 781.8 164.6C782.9 166.3 784.0 167.9 785.2 169.6C786.3 171.2 787.4 172.9 788.6 174.5C789.7 176.1 790.9 177.8 792.0 179.4C793.1 181.1 794.3 182.7 795.4 184.4C796.6 186.0 797.8 187.6 798.9 189.2C800.1 190.8 801.3 192.4 802.5 194.1C803.7 195.7 804.8 197.3 806.0 198.9C807.3 200.5 808.5 202.0 809.8 203.5C811.2 205.0 812.6 206.4 814.0 207.8C815.4 209.2 816.8 210.7 818.3 212.0C819.7 213.4 821.2 214.8 822.7 216.1C824.2 217.4 825.8 218.6 827.3 219.9C828.9 221.2 830.4 222.5 832.0 223.7C833.5 225.0 835.0 226.3 836.7 227.4C838.3 228.5 840.1 229.4 841.9 230.3C843.7 231.3 845.5 232.1 847.3 233.0C849.1 233.9 850.8 234.8 852.6 235.7C854.4 236.5 856.2 237.5 858.0 238.3C859.8 239.2 861.6 240.0 863.5 240.8C865.3 241.5 867.2 242.1 869.1 242.8C871.0 243.4 872.9 244.1 874.8 244.8C876.7 245.4 878.6 246.1 880.5 246.7C882.4 247.3 884.3 247.8 886.2 248.4C888.2 248.9 890.1 249.3 892.1 249.8C894.0 250.3 896.0 250.7 897.9 251.2C899.8 251.7 902.1 252.2 903.6 252.6C905.0 252.9 906.0 253.2 906.5 253.3" stroke="#0000ff" stroke-width="2.4" />
<path d="M545.3 467.5C546.3 467.6 549.3 468.1 551.2 468.4C553.2 468.6 555.2 469.0 557.2 469.2C559.2 469.3 561.2 469.3 563.2 469.3C565.1 469.3 567.2 469.2 569.1 469.0C571.1 468.9 573.1 468.7 575.1 468.4C577.1 468.1 579.0 467.5 580.9 467.0C582.9 466.6 584.8 466.1 586.7 465.5C588.6 464.9 590.5 464.2 592.3 463.3C594.1 462.5 595.9 461.6 597.6 460.7C599.4 459.8 601.2 458.9 603.0 457.9C604.7 456.9 606.3 455.8 608.0 454.7C609.6 453.5 611.2 452.3 612.9 451.2C614.5 450.0 616.1 448.9 617.7 447.7C619.4 446.5 621.0 445.3 622.5 444.1C624.1 442.8 625.6 441.5 627.2 440.3C628.7 439.0 630.3 437.7 631.8 436.4C633.3 435.1 634.9 433.9 636.3 432.5C637.7 431.1 638.9 429.5 640.3 428.0C641.6 426.5 642.8 424.9 644.1 423.4C645.4 421.8 646.7 420.4 647.8 418.7C648.9 417.1 649.8 415.3 650.7 413.5C651.6 411.7 652.3 409.8 653.1 408.0C653.9 406.2 654.7 404.3 655.4 402.5C656.1 400.6 656.7 398.7 657.2 396.8C657.7 394.9 658.1 392.9 658.5 390.9C659.0 389.0 659.4 387.0 659.9 385.1C660.3 383.1 660.8 381.2 661.4 379.3C661.9 377.4 662.7 375.5 663.3 373.6C664.0 371.7 664.7 369.9 665.4 368.0C666.1 366.1 666.9 364.3 667.7 362.4C668.5 360.6 669.4 358.8 670.2 357.0C671.1 355.2 671.7 353.3 672.8 351.6C673.8 349.9 675.0 348.4 676.4 347.1C677.8 345.7 679.6 344.6 681.2 343.4C682.8 342.2 684.3 340.9 686.0 339.8C687.6 338.7 689.3 337.6 691.1 336.7C692.8 335.8 694.7 335.1 696.6 334.4C698.4 333.6 700.2 332.6 702.1 332.2C704.0 331.8 706.0 331.7 707.9 331.8C709.9 331.9 711.9 332.2 713.8 332.8C715.7 333.3 717.5 334.3 719.3 335.1C721.1 336.0 722.9 336.9 724.6 337.8C726.4 338.8 728.1 339.7 729.7 340.9C731.3 342.1 732.6 343.6 734.0 345.0C735.5 346.4 736.9 347.9 738.3 349.3C739.7 350.7 741.2 352.0 742.5 353.6C743.8 355.1 744.9 356.7 746.0 358.4C747.1 360.0 748.1 361.8 749.1 363.5C750.1 365.2 751.2 366.9 752.1 368.7C753.1 370.4 754.0 372.2 754.9 374.0C755.8 375.8 756.7 377.6 757.6 379.4C758.5 381.2 759.4 382.9 760.3 384.7C761.1 386.5 762.0 388.3 762.9 390.1C763.7 391.9 764.5 393.8 765.3 395.6C766.2 397.4 767.0 399.2 767.9 401.0C768.9 402.8 769.9 404.5 770.9 406.2C771.9 407.9 772.9 409.7 773.9 411.4C774.9 413.1 776.0 414.8 777.1 416.5C778.2 418.1 779.4 419.7 780.6 421.4C781.7 423.0 782.9 424.6 784.0 426.3C785.2 427.9 786.3 429.6 787.6 431.1C788.9 432.6 790.3 434.0 791.8 435.3C793.3 436.7 794.8 437.9 796.3 439.2C797.9 440.5 799.4 441.8 800.9 443.1C802.4 444.4 803.9 445.8 805.5 446.9C807.2 448.1 808.9 449.1 810.6 450.1C812.3 451.1 814.1 452.0 815.9 453.0C817.6 453.9 819.4 454.9 821.1 455.9C822.9 456.9 824.6 457.9 826.4 458.8C828.2 459.6 830.0 460.3 831.9 460.9C833.8 461.5 835.8 462.0 837.7 462.5C839.6 463.0 841.6 463.6 843.5 464.1C845.4 464.6 847.3 465.2 849.3 465.7C851.2 466.2 853.1 466.7 855.1 467.2C857.0 467.6 859.0 467.9 861.0 468.3C863.0 468.6 864.9 468.9 866.9 469.2C868.9 469.5 870.9 469.8 872.8 470.1C874.8 470.4 876.8 470.7 878.8 470.9C880.8 471.2 882.7 471.4 884.7 471.6C886.7 471.8 888.8 471.9 890.7 472.1C892.6 472.2 895.1 472.4 896.0 472.5" stroke="#0000ff" stroke-width="2.4" />
<path d="M623.5 284.5C623.5 281.2 623.3 270.5 623.2 265.0C623.1 259.5 623.3 256.9 623.0 251.5C622.7 246.1 621.5 238.6 621.2 232.7C620.9 226.8 621.1 219.9 621.4 216.0C621.7 212.1 622.1 211.3 623.0 209.5C623.9 207.7 626.1 206.1 626.7 205.4M619.3 220.0L621.3 213.0M626.7 205.4L630.0 209.3M616.4 237.4L623.5 249.5L626.5 240.5" stroke="#00ff00" stroke-width="1.9" />
<path d="M608.8 246.0L636.0 262.8M635.0 244.2L614.5 268.2M611.0 253.0L634.0 258.5M628.0 246.0L617.0 264.0M611.5 249.5L632.5 263.5M637.0 247.5L618.0 266.5" stroke="#00ff00" stroke-width="3" />
<path d="M792.6 499.5L808.3 467.6M801.6 502.5L800.8 485.0L800.0 467.6M788.0 470.6L809.0 487.0M792.5 469.5L806.0 492.0M790.0 484.0L810.0 474.5M796.0 468.5L803.0 490.0" stroke="#00ff00" stroke-width="3" />
<path d="M831.0 287.5L803.0 287.5M817.6 282.7L803.0 287.5L813.4 295.0" stroke="#0000ff" stroke-width="2" />
<path d="M853.5 515.8L832.3 516.3M844.8 511.3L832.3 516.3L841.0 521.8" stroke="#0000ff" stroke-width="2" />
<path d="M802.9 115.2C803.1 117.2 803.7 122.9 804.2 127.0C804.7 131.1 805.7 137.5 806.0 139.6M803.0 117.0C803.9 116.6 806.8 114.5 808.4 114.6C810.0 114.7 812.1 116.1 812.7 117.6C813.3 119.1 813.1 122.2 812.1 123.7C811.1 125.2 807.5 126.3 806.6 126.8M822.5 102.9C821.9 104.2 819.5 108.2 818.8 110.9C818.1 113.7 818.0 117.0 818.2 119.4C818.4 121.9 819.0 124.3 820.0 125.6C821.0 126.9 823.6 127.1 824.3 127.4M826.5 115.2C827.4 115.9 830.0 117.8 832.0 119.5C834.0 121.2 837.3 124.6 838.4 125.6M839.0 116.4C838.4 117.3 836.6 120.2 835.5 122.0C834.4 123.8 832.8 126.5 832.3 127.4M845.7 127.2L847.5 132.4M855.3 112.8L855.7 114.2M858.6 125.6C858.5 126.2 858.5 128.0 858.0 129.0C857.5 130.0 855.9 131.2 855.5 131.7M874.5 114.6C873.8 117.7 872.0 127.2 870.5 133.0C869.0 138.8 866.2 146.7 865.3 149.4M874.5 114.6C874.6 116.5 874.2 123.9 875.0 126.2C875.8 128.5 877.7 128.1 879.0 128.2C880.3 128.3 881.8 129.1 883.0 126.8C884.2 124.5 885.3 115.4 886.0 114.6C886.7 113.8 886.6 119.7 887.0 122.0C887.4 124.3 888.3 127.5 888.6 128.6M895.3 128.6L898.0 128.0L898.3 134.2M908.7 130.5C908.5 131.2 908.1 133.3 907.5 134.5C906.9 135.7 905.4 137.2 905.0 137.8M935.0 117.6C933.7 118.2 928.6 119.8 927.0 121.3C925.4 122.8 924.9 125.3 925.2 126.8C925.5 128.3 927.6 130.3 928.9 130.5C930.2 130.7 932.8 128.9 932.8 128.0C932.8 127.0 929.6 125.3 929.0 124.8M940.5 111.2C941.1 111.0 943.3 109.5 944.2 109.7C945.1 110.0 946.2 111.4 946.0 112.7C945.8 114.0 943.7 116.5 943.2 117.3M943.2 117.3L949.1 118.2M942.4 128.0L944.8 139.0M941.0 129.2L942.4 128.0M942.6 134.5L946.0 133.6M951.5 100.5C952.6 101.6 956.5 104.5 958.2 107.2C959.9 110.0 961.6 113.0 961.9 117.0C962.2 121.0 960.4 128.7 960.1 131.0" stroke="#0000ff" stroke-width="2.6" />
<path d="M806.6 149.9C813.8 150.0 834.4 150.0 850.0 150.3C865.6 150.7 882.2 151.5 900.0 152.0C917.8 152.5 947.3 152.9 956.8 153.1" stroke="#00ff00" stroke-width="2.1" />
<path d="M826.1 360.0C826.6 361.8 828.0 367.4 829.0 371.0C830.0 374.6 831.7 379.8 832.2 381.5M826.8 361.5C827.7 360.6 830.3 356.9 832.2 355.8C834.1 354.7 836.9 354.2 838.3 354.6C839.7 355.0 841.0 356.8 840.8 358.2C840.6 359.6 838.8 361.9 837.1 363.1C835.4 364.3 831.5 365.2 830.4 365.6M850.6 342.3C849.9 343.7 846.9 347.8 846.3 350.9C845.7 354.0 846.0 358.1 846.9 360.7C847.8 363.2 851.0 365.3 851.8 366.2M853.6 355.4C854.1 355.2 855.7 354.0 856.5 354.4C857.3 354.8 857.8 356.7 858.3 358.0C858.8 359.3 858.7 360.7 859.3 362.0C859.9 363.3 861.4 365.2 861.8 365.8M857.8 360.6L864.0 358.6M867.1 360.0C867.8 359.8 870.2 358.6 871.3 358.8C872.4 359.0 874.0 359.8 873.6 361.3C873.2 362.8 870.0 366.5 868.9 367.8C867.8 369.1 867.6 369.0 867.3 369.2M867.3 369.2L873.8 368.6M885.8 351.6L886.2 353.0M890.3 363.7C890.2 364.3 890.4 366.4 890.0 367.5C889.6 368.6 888.2 370.0 887.8 370.5M901.3 352.1C901.0 355.1 900.3 364.1 899.3 370.0C898.3 375.9 895.9 384.7 895.2 387.6M901.5 352.5C901.9 354.7 902.8 363.3 903.7 365.6C904.6 367.9 905.9 366.7 907.0 366.5C908.1 366.3 909.5 366.9 910.5 364.3C911.5 361.7 912.7 351.5 913.3 350.6C913.9 349.7 913.9 356.2 914.3 359.0C914.7 361.8 915.3 365.8 915.5 367.2M919.6 361.3C920.3 360.9 922.7 359.3 924.0 359.0C925.3 358.7 927.5 358.6 927.6 359.6C927.7 360.6 925.6 363.6 924.5 365.0C923.4 366.4 921.4 367.7 920.8 368.2M920.8 368.2L932.4 367.4M938.6 367.4C938.3 367.9 937.7 369.6 937.0 370.5C936.3 371.4 934.8 372.5 934.3 372.9M960.6 355.2C959.7 356.0 956.3 358.3 955.1 360.0C953.9 361.7 952.9 364.2 953.2 365.6C953.5 367.0 955.6 368.4 956.9 368.6C958.2 368.8 960.8 367.8 961.2 366.8C961.6 365.8 960.3 363.0 959.3 362.5C958.3 362.0 955.7 363.4 955.0 363.6M966.7 347.4C967.6 347.2 971.0 346.0 972.2 346.4C973.4 346.8 974.4 348.5 974.0 349.7C973.6 350.9 970.4 352.9 969.7 353.5M969.7 353.5L975.8 354.0M968.5 364.5C969.2 364.3 972.0 363.2 972.8 363.5C973.6 363.8 973.6 365.2 973.3 366.5C973.0 367.8 971.4 370.2 971.0 371.0M971.0 371.0L976.5 371.7M986.2 347.2C987.4 348.8 991.7 353.7 993.6 357.0C995.5 360.3 997.0 364.4 997.9 366.8C998.8 369.2 999.8 369.6 999.1 371.7C998.4 373.8 994.5 378.3 993.6 379.6M987.2 347.4C988.4 349.2 992.7 354.7 994.6 358.0C996.5 361.3 997.9 365.5 998.6 367.0M999.1 371.7L1002.7 370.5L994.0 379.3" stroke="#0000ff" stroke-width="2.6" />
<path d="M826.7 394.2C833.9 394.1 854.5 393.4 870.0 393.5C885.5 393.6 905.0 393.9 920.0 394.5C935.0 395.1 946.1 396.4 960.0 397.0C973.9 397.6 996.2 398.2 1003.5 398.4" stroke="#00ff00" stroke-width="2.1" />
</svg>
</body></html>
